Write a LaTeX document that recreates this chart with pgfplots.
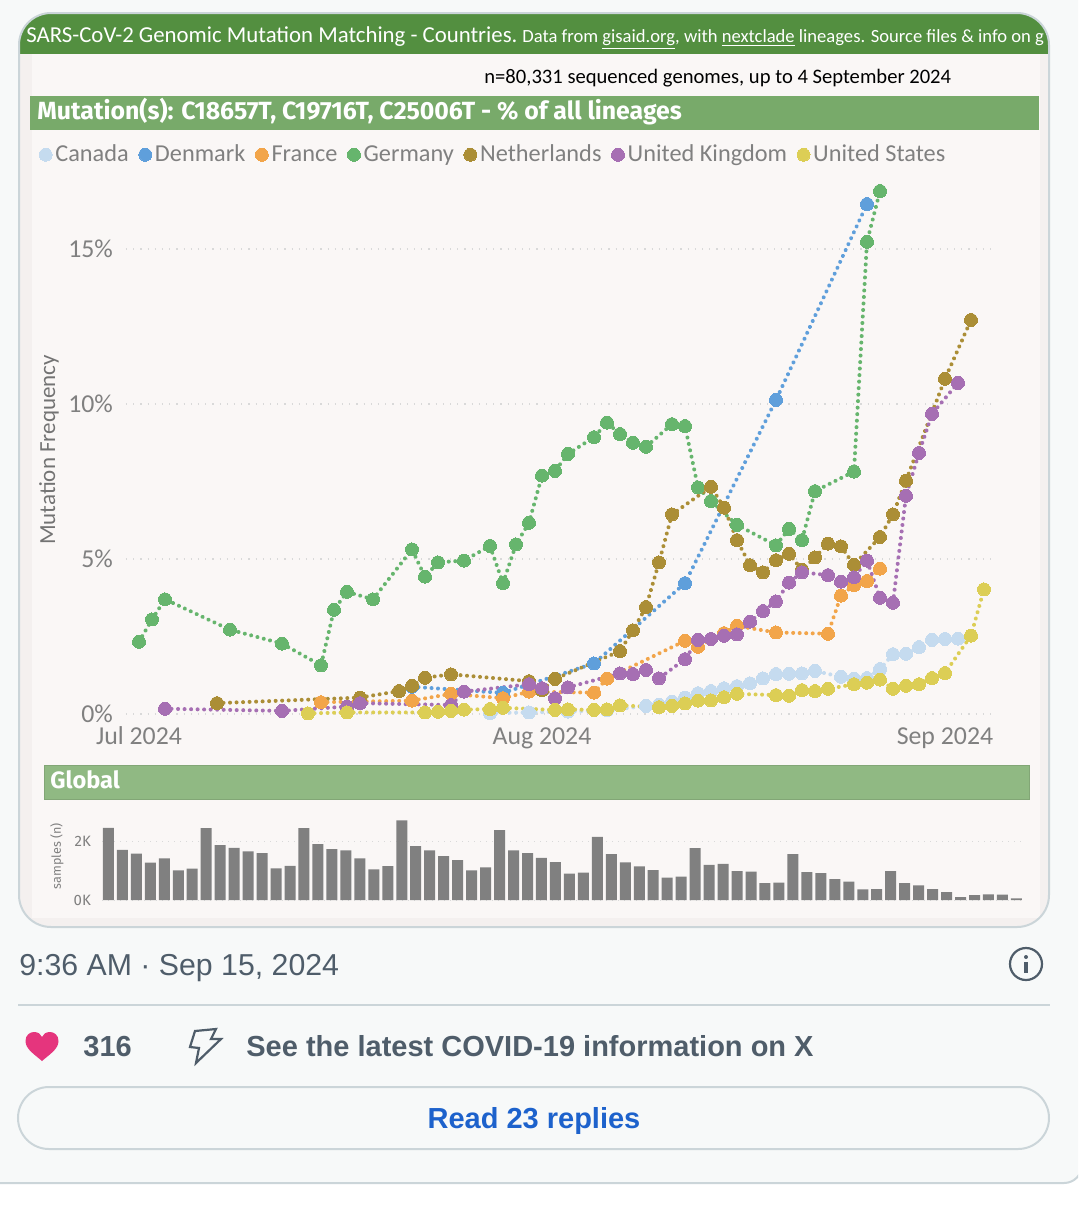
\documentclass[border=0pt]{standalone}
\usepackage{fontspec}
\usepackage{pgfplots}
\pgfplotsset{compat=1.18}
\setmainfont{Carlito}
\newfontfamily\din{Fira Sans}
\newfontfamily\tw{Liberation Sans}
\newcommand{\fs}[1]{\fontsize{#1}{#1}\selectfont}

\definecolor{pagebg}{HTML}{F7F9F9}
\definecolor{rule}{HTML}{CBD5D9}
\definecolor{plotbg}{HTML}{FAF7F6}
\definecolor{strip}{HTML}{F4F0EF}
\definecolor{hdr}{HTML}{538F40}
\definecolor{bar1}{HTML}{78AA6A}
\definecolor{bar2}{HTML}{90B983}
\definecolor{txt}{HTML}{808080}
\definecolor{twgrey}{HTML}{4F5D6A}
\definecolor{twblue}{HTML}{1D62CC}
\definecolor{heart}{HTML}{E5357D}
\definecolor{ca}{HTML}{C5DBEF}
\definecolor{dk}{HTML}{5F9FDB}
\definecolor{fr}{HTML}{F2A54A}
\definecolor{de}{HTML}{66B56D}
\definecolor{nl}{HTML}{AB8E36}
\definecolor{uk}{HTML}{A66FB3}
\definecolor{us}{HTML}{DCCE55}

\pgfplotsset{
  cty/.style={color=#1, line width=2pt, line cap=round, line join=round,
    dash pattern=on 0.01pt off 3.25pt, mark=*, mark size=3.25pt,
    mark options={solid, fill=#1, draw=#1, line width=0pt}},
}

\begin{document}
\begin{tikzpicture}[x=0.5pt,y=-0.5pt]
\clip (0,0) rectangle (1078,1206);
\fill[white] (0,0) rectangle (1078,1206);
\filldraw[fill=pagebg,draw=rule,line width=1pt,rounded corners=9pt] (-30,-30) rectangle (1082,1183);
\coordinate (mainpos) at (126,714);
\coordinate (barpos) at (102,900);

% card
\begin{scope}
\clip[rounded corners=16pt] (19,13) rectangle (1049,927);
\fill[strip] (19,13) rectangle (1049,927);
\fill[plotbg] (32,54) rectangle (1040,918);
\fill[hdr] (19,13) rectangle (1049,54);
\node[anchor=base west,inner sep=0,text=white] at (26,42) {\fs{11.4}SARS-CoV-2 Genomic Mutation Matching - Countries.};
\node[anchor=base west,inner sep=0,text=white] at (522,42) {\fs{9.3}Data from \underline{gisaid.org}, with \underline{nextclade} lineages. Source files \& info on g};
\end{scope}
\draw[rule,line width=1pt,rounded corners=16pt] (19,13) rectangle (1049,927);

\node[anchor=base west,inner sep=0,text=black] at (484,83) {\fs{10.3}n=80,331 sequenced genomes, up to 4 September 2024};
\fill[bar1] (30,96) rectangle (1039,130);
\node[anchor=base west,inner sep=0,text=white] at (37,119) {\din\bfseries\fs{12.42}Mutation(s): C18657T, C19716T, C25006T - \% of all lineages};
\filldraw[fill=bar2,draw=bar2!90!black,line width=0.4pt] (44,765) rectangle (1029,799);
\node[anchor=base west,inner sep=0,text=white] at (50,788) {\din\bfseries\fs{11.8}Global};

\node[rotate=90,text=txt!90!black,inner sep=0] at (49,450) {\fs{11.5}Mutation Frequency};
\node[rotate=90,text=txt,inner sep=0] at (57,856) {\din\fs{6.3}samples (n)};

% country lines
\begin{axis}[
  at={(mainpos)}, anchor=south west,
  scale only axis, width=435.5pt, height=271.25pt,
  xmin=-1, xmax=66, ymin=0, ymax=17.5,
  clip=false,
  axis line style={draw=none},
  major tick length=0pt,
  xtick={0,31,62}, xticklabels={Jul 2024,Aug 2024,Sep 2024},
  ytick={0,5,10,15}, yticklabels={0\%,5\%,10\%,15\%},
  ymajorgrids, xmajorgrids=false,
  grid style={draw=black!15,line width=0.6pt,dash pattern=on 0.6pt off 3pt},
  tick label style={text=txt,font=\fs{12.9}},
  yticklabel style={anchor=east,xshift=-3pt},
  xticklabel style={anchor=base,yshift=-15pt},
  legend columns=7,
  legend style={at={(axis cs:-7.71,18.04)},anchor=west,draw=none,fill=none,
    font=\fs{12.15},text=txt,inner sep=0pt,nodes={inner sep=0pt},
    /tikz/every odd column/.append style={column sep=1.6pt},
    /tikz/every even column/.append style={column sep=5pt}},
  legend cell align=left,
  legend image code/.code={\draw[#1] plot coordinates {(0pt,0pt)};},
]
\addplot[cty=ca] coordinates {
  (27,0.03)(30,0.05)(33,0.08)(36,0.12)(39,0.26)(40,0.30)(41,0.40)(42,0.53)(43,0.67)(44,0.74)
  (45,0.83)(46,0.90)(47,0.99)(48,1.15)(49,1.29)(50,1.30)(51,1.31)(52,1.39)(54,1.20)(55,1.14)
  (56,1.16)(57,1.45)(58,1.93)(59,1.94)(60,2.16)(61,2.39)(62,2.42)(63,2.43)};
\addlegendentry{Canada}
\addplot[cty=dk] coordinates {
  (21,0.88)(28,0.68)(35,1.63)(42,4.22)(49,10.13)(56,16.45)};
\addlegendentry{Denmark}
\addplot[cty=fr] coordinates {
  (14,0.38)(21,0.43)(24,0.65)(28,0.51)(30,0.72)(35,0.69)(36,1.14)(42,2.36)(43,2.17)(45,2.61)
  (46,2.84)(49,2.63)(53,2.59)(54,3.82)(55,4.16)(56,4.29)(57,4.69)};
\addlegendentry{France}
\addplot[cty=de] coordinates {
  (0,2.33)(1,3.05)(2,3.70)(7,2.72)(11,2.27)(14,1.57)(15,3.36)(16,3.94)(18,3.70)(21,5.31)
  (22,4.43)(23,4.89)(25,4.95)(27,5.42)(28,4.22)(29,5.47)(30,6.17)(31,7.69)(32,7.84)(33,8.39)
  (35,8.93)(36,9.40)(37,9.03)(38,8.75)(39,8.62)(41,9.35)(42,9.29)(43,7.31)(44,6.87)(46,6.10)
  (49,5.44)(50,5.97)(51,5.61)(52,7.19)(55,7.82)(56,15.23)(57,16.87)};
\addlegendentry{Germany}
\addplot[cty=nl] coordinates {
  (6,0.35)(17,0.53)(20,0.74)(21,0.91)(22,1.17)(24,1.28)(30,1.06)(31,0.77)(32,1.13)(37,2.03)
  (38,2.70)(39,3.45)(40,4.89)(41,6.44)(44,7.33)(45,6.66)(46,5.61)(47,4.80)(48,4.57)(49,4.96)
  (50,5.17)(51,4.65)(52,5.05)(53,5.50)(54,5.41)(55,4.81)(57,5.71)(58,6.44)(59,7.53)(62,10.81)
  (64,12.71)};
\addlegendentry{Netherlands}
\addplot[cty=uk] coordinates {
  (2,0.17)(11,0.10)(16,0.24)(17,0.35)(24,0.29)(25,0.72)(30,0.96)(31,0.83)(32,0.51)(33,0.86)
  (37,1.31)(38,1.29)(39,1.42)(40,1.15)(42,1.77)(43,2.39)(44,2.42)(45,2.52)(46,2.57)(47,2.98)
  (48,3.32)(49,3.63)(50,4.24)(51,4.57)(53,4.48)(54,4.27)(55,4.41)(56,4.95)(57,3.75)(58,3.59)
  (59,7.04)(60,8.42)(61,9.68)(63,10.68)};
\addlegendentry{United Kingdom}
\addplot[cty=us] coordinates {
  (13,0.02)(16,0.05)(22,0.05)(23,0.07)(24,0.10)(25,0.14)(27,0.16)(28,0.20)(32,0.13)(33,0.15)
  (35,0.13)(36,0.15)(37,0.28)(40,0.22)(41,0.26)(42,0.34)(43,0.43)(44,0.44)(45,0.54)(46,0.65)
  (49,0.61)(50,0.59)(51,0.77)(52,0.74)(53,0.81)(55,0.96)(56,1.01)(57,1.11)(58,0.81)(59,0.91)
  (60,0.96)(61,1.16)(62,1.32)(64,2.53)(65,4.02)};
\addlegendentry{United States}
\end{axis}

% daily samples
\begin{axis}[
  at={(barpos)}, anchor=south west,
  scale only axis, width=460pt, height=41pt,
  xmin=-0.46, xmax=65.4, ymin=0, ymax=2800,
  clip=false,
  axis line style={draw=none},
  major tick length=0pt,
  xtick=\empty,
  ytick={0,2000}, yticklabels={0K,2K},
  ymajorgrids,
  grid style={draw=black!15,line width=0.5pt,dash pattern=on 0.5pt off 2.5pt},
  tick label style={text=txt,font=\din\fs{7.5}},
  yticklabel style={anchor=east,xshift=-2pt},
]
\addplot[ybar,bar width=5.5pt,fill=black!50,draw=none] coordinates {
  (0,2466)(1,1716)(2,1580)(3,1273)(4,1420)(5,1011)(6,1068)(7,2455)(8,1875)(9,1784)
  (10,1659)(11,1602)(12,1080)(13,1170)(14,2455)(15,1909)(16,1739)(17,1693)(18,1420)(19,1045)
  (20,1159)(21,2716)(22,1841)(23,1693)(24,1500)(25,1364)(26,1011)(27,1114)(28,2386)(29,1693)
  (30,1602)(31,1443)(32,1295)(33,897)(34,932)(35,2159)(36,1568)(37,1284)(38,1148)(39,1022)
  (40,761)(41,795)(42,1773)(43,1204)(44,1238)(45,988)(46,966)(47,579)(48,591)(49,1568)
  (50,954)(51,920)(52,716)(53,625)(54,364)(55,375)(56,988)(57,579)(58,500)(59,375)
  (60,273)(61,102)(62,170)(63,193)(64,182)(65,57)};
\end{axis}

% tweet footer
\node[anchor=base west,inner sep=0,text=twgrey] at (19,975) {\tw\fs{15.13}9:36 AM · Sep 15, 2024};
\draw[rule,line width=1pt] (18,1005) -- (1050,1005);
\draw[twgrey,line width=1.1pt] (1026,964) circle (16);
\fill[twgrey] (1026,957) circle (2);
\fill[twgrey] (1024,962) rectangle (1028,973);
\fill[heart] (42,1061) .. controls (34,1054) and (25.5,1049) .. (25.5,1041) .. controls (25.5,1035) and (30,1032) .. (34,1032)
  .. controls (38,1032) and (41,1034) .. (42,1037) .. controls (43,1034) and (46,1032) .. (50,1032)
  .. controls (54,1032) and (58.5,1035) .. (58.5,1041) .. controls (58.5,1049) and (50,1054) .. (42,1061) -- cycle;
\node[anchor=base west,inner sep=0,text=twgrey] at (83,1056) {\tw\bfseries\fs{14.5}316};
\draw[twgrey,line width=1.1pt,line join=miter] (195,1031) -- (216,1029) -- (211,1039) -- (221,1039) -- (196,1063) -- (199,1048) -- (190,1047) -- cycle;
\node[anchor=base west,inner sep=0,text=twgrey] at (246,1056) {\tw\bfseries\fs{14.5}See the latest COVID-19 information on X};
\draw[rule,line width=1pt,rounded corners=15.5pt] (18,1087) rectangle (1049,1149);
\node[anchor=base,inner sep=0,text=twblue] at (534,1128) {\tw\bfseries\fs{14.5}Read 23 replies};
\end{tikzpicture}
\end{document}
